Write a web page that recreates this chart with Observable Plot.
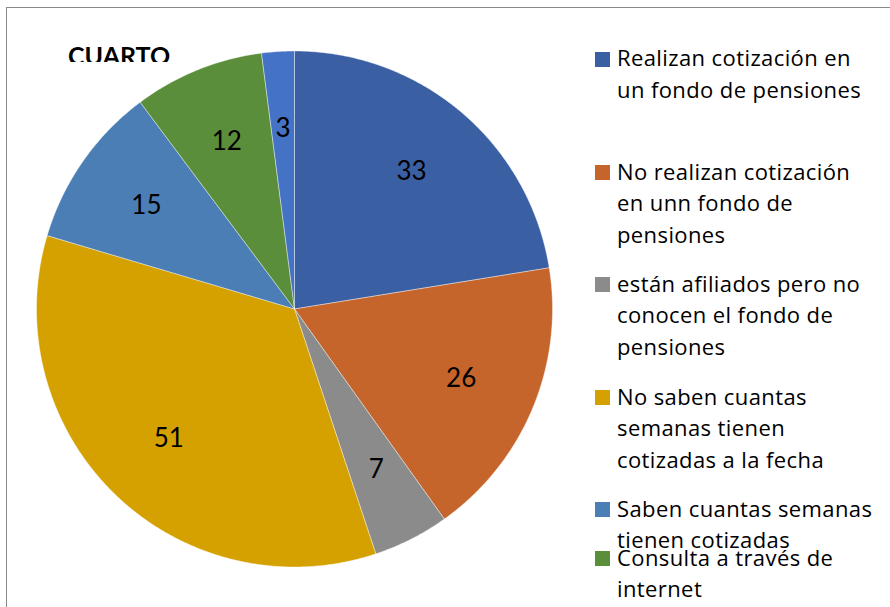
<!DOCTYPE html>
<html>
<head>
<meta charset="utf-8">
<script src="https://cdn.jsdelivr.net/npm/d3@7"></script>
<script src="https://cdn.jsdelivr.net/npm/@observablehq/plot@0.6"></script>
<style>
  html, body { margin: 0; padding: 0; background: #fff; }
  #wrap { position: relative; width: 890px; height: 607px; overflow: hidden; font-family: "Open Sans", Lato, sans-serif; }
  #frame { position: absolute; left: 6px; top: 7px; right: -10px; bottom: -10px; border-left: 1px solid #8a8a8a; border-top: 1px solid #8a8a8a; }
  #chart { position: absolute; left: 0; top: 0; }
  #title { position: absolute; left: 68px; top: 42.5px; height: 19.5px; overflow: hidden; font-family: Lato, sans-serif; font-weight: bold; font-size: 25px; line-height: 25px; color: #000; white-space: nowrap; }
  .item { position: absolute; left: 595px; width: 295px; font-size: 22px; letter-spacing: 0.4px; line-height: 31.7px; color: #000; }
  .item .sw { position: absolute; left: 0; top: 9.5px; width: 15px; height: 15px; }
  .item .tx { position: absolute; left: 22px; top: 0; white-space: pre; }
</style>
</head>
<body>
<div id="wrap">
  <div id="frame"></div>
  <div id="chart"></div>
  <div id="title">CUARTO</div>
  <div id="legend"></div>
</div>
<script>
// ---- data ----
const categories = [
  "Realizan cotización en\nun fondo de pensiones",
  "No realizan cotización\nen unn fondo de\npensiones",
  "están afiliados pero no\nconocen el fondo de\npensiones",
  "No saben cuantas\nsemanas tienen\ncotizadas a la fecha",
  "Saben cuantas semanas\ntienen cotizadas",
  "Consulta a través de\ninternet",
  "Otros"
];
const values = [33, 26, 7, 51, 15, 12, 3];
const colors = ["#3b5fa3", "#c5642b", "#8b8b8b", "#d4a100", "#4a7eb4", "#5b8e3b", "#4472c4"];
const legendCount = 6;
const legendTops = [42.3, 155.6, 267.6, 380.6, 492.6, 541.6];

// ---- geometry derived from data ----
const pie = d3.pie().sort(null).value(d => d.value);
const rows = categories.map((c, i) => ({category: c, value: values[i]}));
const arcs = pie(rows);

const polys = [];
arcs.forEach(a => {
  const name = a.data.category;
  polys.push({name, x: 0, y: 0});
  const n = Math.max(2, Math.ceil((a.endAngle - a.startAngle) / (Math.PI / 360)));
  for (let k = 0; k <= n; k++) {
    const t = a.startAngle + (a.endAngle - a.startAngle) * k / n;
    polys.push({name, x: Math.sin(t), y: Math.cos(t)});
  }
  polys.push({name, x: 0, y: 0});
});
const labels = arcs.map(a => {
  const m = (a.startAngle + a.endAngle) / 2;
  return {x: 0.7 * Math.sin(m), y: 0.7 * Math.cos(m), text: String(a.data.value)};
});

const R = 258, cx = 294, cy = 308.5, W = 890, H = 607;
const chart = Plot.plot({
  width: W,
  height: H,
  margin: 0,
  x: {domain: [-cx / R, (W - cx) / R], axis: null},
  y: {domain: [-(H - cy) / R, cy / R], axis: null},
  color: {domain: categories, range: colors},
  style: {background: "transparent", fontFamily: "Lato, sans-serif"},
  marks: [
    Plot.line(polys, {x: "x", y: "y", z: "name", fill: "name", stroke: "#ffffff", strokeOpacity: 0.5, strokeWidth: 0.8, curve: "linear"}),
    Plot.text(labels, {x: "x", y: "y", text: "text", fontSize: 26, fill: "#000", textAnchor: "middle", lineAnchor: "middle"})
  ]
});
document.getElementById("chart").appendChild(chart);

const legend = document.getElementById("legend");
for (let i = 0; i < legendCount; i++) {
  const it = document.createElement("div");
  it.className = "item";
  it.style.top = legendTops[i] + "px";
  const sw = document.createElement("div");
  sw.className = "sw";
  sw.style.background = colors[i];
  const tx = document.createElement("div");
  tx.className = "tx";
  tx.textContent = categories[i];
  it.appendChild(sw);
  it.appendChild(tx);
  legend.appendChild(it);
}
</script>
</body>
</html>
